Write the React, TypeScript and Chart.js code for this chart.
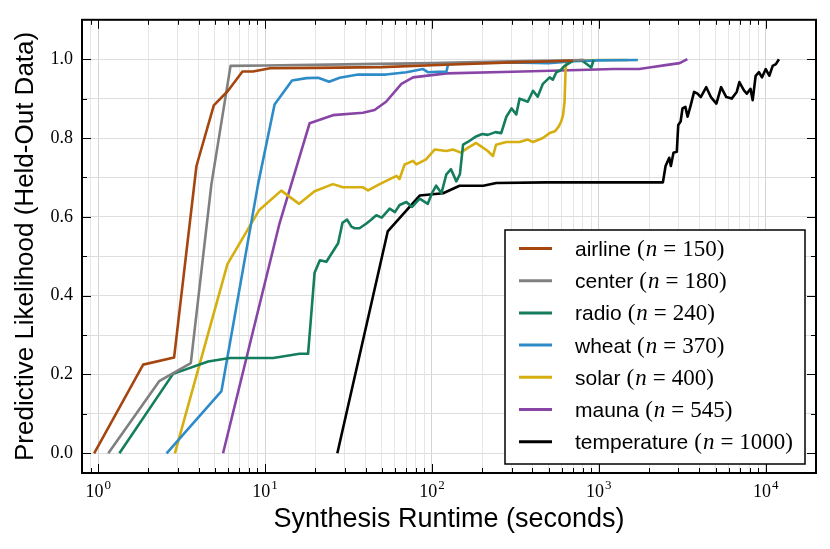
import React, { useEffect, useRef } from "react";
import { Chart, registerables } from "chart.js";

Chart.register(...registerables);

// ---------- data ----------
const seriesNames = ["airline", "center", "radio", "wheat", "solar", "mauna", "temperature"];
const seriesN = [150, 180, 240, 370, 400, 545, 1000];
const seriesColors = ["#a5460f", "#808080", "#137d5e", "#2d8bc8", "#d6ae0f", "#8845a6", "#000000"];

const airlineX = [0.946, 1.86, 2.85, 3.88, 4.93, 6.0, 7.32, 8.47, 10.7, 20, 50, 120, 300, 700];
const airlineY = [0, 0.225, 0.243, 0.729, 0.883, 0.92, 0.969, 0.969, 0.977, 0.978, 0.98, 0.986, 0.992, 0.996];

const centerX = [1.15, 2.32, 3.59, 4.77, 6.21, 10, 30, 100, 300, 820];
const centerY = [0, 0.183, 0.229, 0.683, 0.983, 0.984, 0.987, 0.99, 0.995, 0.998];

const radioX = [1.34, 2.81, 4.56, 6.15, 11.2, 16.1, 18.1, 19.8, 21.3, 23.3, 27.4, 29.1, 31.0, 32.9, 34.4, 36.8, 40.5, 43, 46.4, 50, 55.8, 60, 64, 70.3, 76, 84.4, 94.4, 100, 106, 114, 122, 130, 140, 147, 153.6, 164, 184, 200, 216, 240, 260, 279, 300, 320, 335, 375, 403, 430, 462, 507, 530, 556, 590, 623, 700, 785, 900, 930];
const radioY = [0, 0.2015, 0.233, 0.242, 0.242, 0.2525, 0.2525, 0.458, 0.49, 0.486, 0.533, 0.585, 0.593, 0.575, 0.571, 0.571, 0.583, 0.592, 0.604, 0.598, 0.621, 0.612, 0.63, 0.6375, 0.625, 0.646, 0.633, 0.66, 0.679, 0.66, 0.708, 0.721, 0.69, 0.708, 0.783, 0.79, 0.804, 0.81, 0.808, 0.815, 0.8125, 0.854, 0.875, 0.86, 0.9, 0.892, 0.92, 0.905, 0.9375, 0.954, 0.948, 0.967, 0.972, 0.983, 0.996, 0.998, 0.979, 0.998];

const wheatX = [2.57, 5.48, 9.08, 11.4, 14.5, 17.7, 20.8, 24.2, 28, 36.1, 53, 70.3, 88.4, 94.5, 108.7, 122, 125, 147, 300, 500, 700, 1000, 1713];
const wheatY = [0, 0.158, 0.683, 0.885, 0.946, 0.952, 0.953, 0.943, 0.953, 0.961, 0.961, 0.967, 0.975, 0.967, 0.968, 0.968, 0.9875, 0.99, 0.992, 0.99, 0.995, 0.997, 0.998];

const solarX = [2.88, 5.95, 9.2, 12.5, 16.0, 19.8, 25.5, 29.3, 38.6, 41.4, 48.6, 61.3, 63.9, 68.6, 77, 80.6, 92.2, 104, 122, 133.5, 149, 164, 184, 197, 216, 232, 242, 279, 335, 375, 403, 462, 507, 545, 574, 595, 610, 623, 632, 640, 700, 1000, 1492];
const solarY = [0, 0.48, 0.6165, 0.6665, 0.633, 0.665, 0.683, 0.675, 0.675, 0.667, 0.683, 0.704, 0.696, 0.733, 0.742, 0.733, 0.746, 0.771, 0.767, 0.771, 0.763, 0.775, 0.7875, 0.779, 0.767, 0.754, 0.783, 0.79, 0.79, 0.796, 0.79, 0.8, 0.8125, 0.817, 0.829, 0.842, 0.858, 0.892, 0.975, 0.992, 0.996, 0.998, 0.998];

const maunaX = [5.6, 12.2, 18.5, 25.5, 38.6, 45.3, 53.1, 65.6, 77, 122, 305, 764, 1220, 1740, 2010, 2510, 3050, 3390];
const maunaY = [0, 0.583, 0.8375, 0.858, 0.864, 0.871, 0.892, 0.9375, 0.954, 0.964, 0.968, 0.9725, 0.975, 0.975, 0.979, 0.985, 0.99, 1.0];

const temperatureX = [27.1, 54.3, 84.4, 116.6, 146.4, 203, 243, 484, 2420, 2510, 2640, 2700, 2800, 2930, 2990, 3090, 3170, 3300, 3400, 3550, 3720, 3900, 4080, 4400, 4690, 5060, 5400, 5800, 6250, 6700, 6950, 7400, 7700, 8100, 8350, 8700, 9100, 9500, 10000, 10500, 11000, 11500, 12000];
const temperatureY = [0, 0.563, 0.654, 0.66, 0.679, 0.679, 0.686, 0.6875, 0.6875, 0.729, 0.75, 0.729, 0.7625, 0.765, 0.833, 0.842, 0.875, 0.879, 0.854, 0.883, 0.917, 0.9125, 0.904, 0.929, 0.904, 0.8875, 0.929, 0.904, 0.9, 0.917, 0.942, 0.921, 0.9125, 0.925, 0.896, 0.958, 0.967, 0.954, 0.975, 0.958, 0.983, 0.9875, 1.0];

const seriesXs = [airlineX, centerX, radioX, wheatX, solarX, maunaX, temperatureX];
const seriesYs = [airlineY, centerY, radioY, wheatY, solarY, maunaY, temperatureY];

const xTickValues = [0.9, 1, 2, 3, 4, 5, 6, 7, 8, 9, 10, 20, 30, 40, 50, 60, 70, 80, 90, 100, 200, 300, 400, 500, 600, 700, 800, 900, 1000, 2000, 3000, 4000, 5000, 6000, 7000, 8000, 9000, 10000, 20000];
const yTickValues = [0, 0.1, 0.2, 0.3, 0.4, 0.5, 0.6, 0.7, 0.8, 0.9, 1.0];
const xTitle = "Synthesis Runtime (seconds)";
const yTitle = "Predictive Likelihood (Held-Out Data)";

const SERIF = "'Liberation Serif', 'Times New Roman', serif";
const SANS = "'Liberation Sans', Arial, sans-serif";

function isPow10(v: number) {
  const l = Math.log10(v);
  return Math.abs(l - Math.round(l)) < 1e-9;
}

const framePlugin = {
  id: "frameTicksLegend",
  afterDatasetsDraw(chart: any) {
    const { ctx, chartArea: a, scales } = chart;
    const xs = scales.x;
    const ys = scales.y;
    ctx.save();
    ctx.strokeStyle = "#000";
    // inward ticks
    ctx.lineWidth = 1;
    for (const v of xTickValues) {
      const px = Math.round(xs.getPixelForValue(v)) + 0.5;
      if (px < a.left || px > a.right) continue;
      const len = isPow10(v) ? 9 : 5;
      ctx.beginPath();
      ctx.moveTo(px, a.bottom);
      ctx.lineTo(px, a.bottom - len);
      ctx.moveTo(px, a.top);
      ctx.lineTo(px, a.top + len);
      ctx.stroke();
    }
    yTickValues.forEach((v, i) => {
      const py = Math.round(ys.getPixelForValue(v)) + 0.5;
      const len = i % 2 === 0 ? 9 : 5;
      ctx.beginPath();
      ctx.moveTo(a.left, py);
      ctx.lineTo(a.left + len, py);
      ctx.moveTo(a.right, py);
      ctx.lineTo(a.right - len, py);
      ctx.stroke();
    });
    // frame
    ctx.lineWidth = 2;
    ctx.strokeRect(a.left, a.top, a.right - a.left, a.bottom - a.top);

    // x tick labels: 10 with raised exponent
    ctx.fillStyle = "#000";
    ctx.textBaseline = "alphabetic";
    ctx.textAlign = "left";
    for (const v of xTickValues) {
      if (!isPow10(v)) continue;
      const px = xs.getPixelForValue(v);
      const e = String(Math.round(Math.log10(v)));
      ctx.font = "18px " + SERIF;
      const wb = ctx.measureText("10").width;
      ctx.font = "13px " + SERIF;
      const we = ctx.measureText(e).width;
      const x0 = px - (wb + we + 1) / 2;
      ctx.font = "18px " + SERIF;
      ctx.fillText("10", x0, 497);
      ctx.font = "13px " + SERIF;
      ctx.fillText(e, x0 + wb + 1, 489);
    }

    // legend
    const lx = 505, ly = 230, lw = 300, lh = 234;
    ctx.fillStyle = "#fff";
    ctx.fillRect(lx, ly, lw, lh);
    ctx.lineWidth = 1.5;
    ctx.strokeStyle = "#000";
    ctx.strokeRect(lx, ly, lw, lh);
    const sansFont = "21px " + SANS;
    const serifFont = "23px " + SERIF;
    const italFont = "italic 23px " + SERIF;
    ctx.textBaseline = "alphabetic";
    seriesNames.forEach((name, i) => {
      const cy = 248.5 + i * 32.2;
      ctx.strokeStyle = seriesColors[i];
      ctx.lineWidth = 3;
      ctx.beginPath();
      ctx.moveTo(519, cy);
      ctx.lineTo(552, cy);
      ctx.stroke();
      const base = cy + 7.5;
      let x = 575;
      ctx.fillStyle = "#000";
      ctx.font = sansFont;
      ctx.fillText(name, x, base);
      x += ctx.measureText(name).width + 6;
      ctx.font = serifFont;
      ctx.fillText("(", x, base);
      x += ctx.measureText("(").width + 1;
      ctx.font = italFont;
      ctx.fillText("n", x, base);
      x += ctx.measureText("n").width + 6;
      ctx.font = serifFont;
      ctx.fillText("=", x, base);
      x += ctx.measureText("=").width + 6;
      const num = String(seriesN[i]) + ")";
      ctx.fillText(num, x, base);
    });
    ctx.restore();
  },
};

export default function App() {
  const ref = useRef<HTMLCanvasElement | null>(null);
  useEffect(() => {
    document.body.style.margin = "0";
    const canvas = ref.current!;
    const datasets = seriesNames.map((name, i) => ({
      label: name,
      data: seriesXs[i].map((x, j) => ({ x, y: seriesYs[i][j] })),
      borderColor: seriesColors[i],
      backgroundColor: seriesColors[i],
      borderWidth: 2.6,
      pointRadius: 0,
      fill: false,
      tension: 0,
      borderJoinStyle: "round" as const,
    }));
    const tickFont = { family: SERIF, size: 18 };
    const chart = new Chart(canvas, {
      type: "line",
      data: { datasets },
      plugins: [framePlugin],
      options: {
        animation: false,
        responsive: false,
        devicePixelRatio: 1,
        layout: { padding: { top: 14, right: 14, left: 0, bottom: 0 } },
        plugins: { legend: { display: false }, tooltip: { enabled: false } },
        scales: {
          x: {
            type: "logarithmic",
            min: 0.8,
            max: 20000,
            afterBuildTicks: (s: any) => {
              s.ticks = xTickValues.map((v) => ({ value: v, major: isPow10(v) }));
            },
            afterFit: (s: any) => {
              s.height = 76;
            },
            ticks: { display: false, autoSkip: false, maxRotation: 0 },
            grid: {
              drawTicks: false,
              color: (c: any) => (c.tick && isPow10(c.tick.value) ? "#d4d4d4" : "#e6e6e6"),
              lineWidth: 1,
            },
            border: { display: false },
            title: { display: true, text: xTitle, color: "#000", font: { family: SANS, size: 27 }, padding: { top: 0, bottom: 13 } },
          },
          y: {
            type: "linear",
            min: -0.05,
            max: 1.1,
            afterBuildTicks: (s: any) => {
              s.ticks = yTickValues.map((v) => ({ value: v }));
            },
            afterFit: (s: any) => {
              s.width = 82;
            },
            ticks: {
              autoSkip: false,
              padding: 9,
              color: "#000",
              font: tickFont,
              callback: (v: any, i: number) => (i % 2 === 0 ? Number(v).toFixed(1) : ""),
            },
            grid: { drawTicks: false, color: "#dedede", lineWidth: 1 },
            border: { display: false },
            title: { display: true, text: yTitle, color: "#000", font: { family: SANS, size: 26 }, padding: { top: 10, bottom: 0 } },
          },
        },
      },
    } as any);
    return () => chart.destroy();
  }, []);
  return <canvas ref={ref} width={830} height={549} style={{ display: "block" }} />;
}
